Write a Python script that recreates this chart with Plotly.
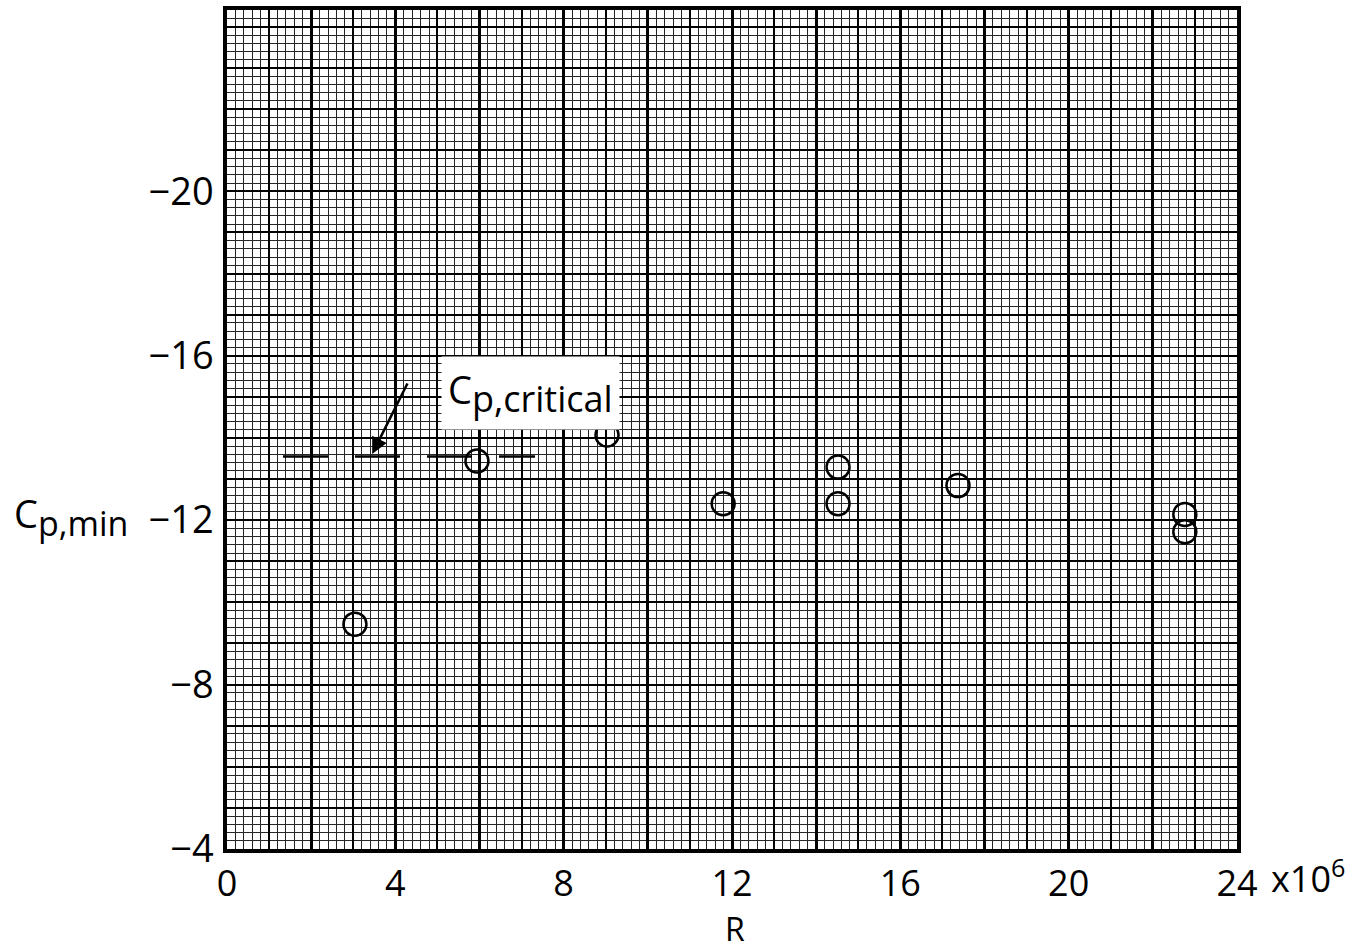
import plotly.graph_objects as go

# ---- data ----
R_vals = [3.04, 5.94, 9.03, 11.79, 14.52, 14.52, 17.37, 22.76, 22.76]   # x10^6
cp_min = [-9.47, -13.44, -14.07, -12.40, -13.29, -12.40, -12.84, -12.14, -11.72]
crit_R = [1.33, 7.32]
crit_cp = [-13.55, -13.55]
x_ticks = [0, 4, 8, 12, 16, 20, 24]
x_ticktext = ["0", "4", "8", "12", "16", "20", "24"]
y_ticks = [-20, -16, -12, -8, -4]
y_ticktext = ["\u221220", "\u221216", "\u221212", "\u22128", "\u22124"]

XR = [0, 24]
YR = [-4, -24.41]
FONT = "Open Sans"

fig = go.Figure()

# invisible traces for overlay grid subplots
for xa, ya in [("x2", "y2"), ("x3", "y3")]:
    fig.add_trace(go.Scatter(x=[XR[0]], y=[YR[0]], xaxis=xa, yaxis=ya, mode="markers",
                             marker=dict(opacity=0), hoverinfo="skip", showlegend=False))

fig.add_trace(go.Scatter(x=crit_R, y=crit_cp, mode="lines",
                         line=dict(color="black", width=2.5, dash="45px,27px"),
                         showlegend=False, hoverinfo="skip"))
fig.add_trace(go.Scatter(x=R_vals, y=cp_min, mode="markers",
                         marker=dict(symbol="circle-open", size=23, color="black",
                                     line=dict(width=2.5, color="black")),
                         showlegend=False))

common = dict(showticklabels=False, ticks="", zeroline=False, showline=False)
fig.update_layout(
    width=1364, height=952,
    margin=dict(l=227, r=127, t=6, b=103),
    plot_bgcolor="white", paper_bgcolor="white",
    font=dict(family=FONT, color="black", size=38),
    xaxis=dict(range=XR, tickvals=x_ticks, ticktext=x_ticktext, ticks="",
               showgrid=False, zeroline=False, ticklabelstandoff=0,
               showline=True, linecolor="black", linewidth=3.5, mirror=True,
               tickfont=dict(size=36, family=FONT),
               minor=dict(tickmode="linear", tick0=0, dtick=0.2, showgrid=True,
                          gridcolor="#262626", gridwidth=1, ticks="")),
    yaxis=dict(range=YR, tickvals=y_ticks, ticktext=y_ticktext, ticks="",
               showgrid=False, zeroline=False, ticklabelstandoff=2,
               showline=True, linecolor="black", linewidth=3.5, mirror=True,
               tickfont=dict(size=38, family=FONT),
               minor=dict(tickmode="linear", tick0=-4, dtick=0.2, showgrid=True,
                          gridcolor="#262626", gridwidth=1, ticks="")),
    xaxis2=dict(range=XR, overlaying="x", anchor="y2", tick0=0, dtick=1,
                showgrid=True, gridcolor="black", gridwidth=1.8, **common),
    yaxis2=dict(range=YR, overlaying="y", anchor="x2", tick0=-4, dtick=1,
                showgrid=True, gridcolor="black", gridwidth=1.8, **common),
    xaxis3=dict(range=XR, overlaying="x", anchor="y3", tick0=0, dtick=2,
                showgrid=True, gridcolor="black", gridwidth=3, **common),
    yaxis3=dict(range=YR, overlaying="y", anchor="x3", tick0=-4, dtick=4,
                showgrid=True, gridcolor="black", gridwidth=1.8, **common),
)

# y-axis label
fig.add_annotation(xref="paper", yref="y", x=-0.213, y=-12.1, xanchor="left", yanchor="middle",
                   text="C<sub><span style='font-size:34px'>p,min</span></sub>",
                   showarrow=False, font=dict(size=38, family=FONT))
# x-axis label
fig.add_annotation(xref="x", yref="paper", x=12.07, y=-0.095, xanchor="center", yanchor="middle",
                   text="R", showarrow=False, font=dict(size=32, family=FONT))
# x10^6 exponent label
fig.add_annotation(xref="x", yref="paper", x=24, y=-0.033, xanchor="left", yanchor="middle",
                   xshift=32, text="x10<sup>6</sup>", showarrow=False, font=dict(size=36, family=FONT))
# C_p,critical label
fig.add_annotation(xref="x", yref="y", x=9.34, y=-15.1, xanchor="right", yanchor="middle",
                   text="C<sub><span style='font-size:36px'>p,critical</span></sub>",
                   showarrow=False, bgcolor="white", borderpad=6,
                   font=dict(size=38, family=FONT))
# arrow
fig.add_annotation(xref="x", yref="y", x=3.45, y=-13.61, ax=36, ay=-72, text="",
                   showarrow=True, arrowhead=2, arrowsize=1.3, arrowwidth=2.5, arrowcolor="black")

fig.write_html("out.html")
